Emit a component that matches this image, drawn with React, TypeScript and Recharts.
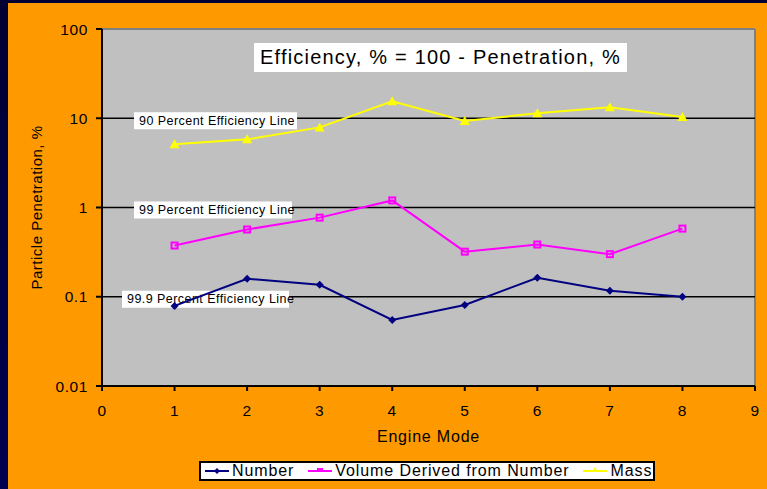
import React from "react"
import {
  CartesianGrid,
  Line,
  LineChart,
  ReferenceLine,
  XAxis,
  YAxis,
} from "recharts"

const modes = [1, 2, 3, 4, 5, 6, 7, 8]
const numberPen = [0.079, 0.159, 0.136, 0.055, 0.081, 0.163, 0.117, 0.1]
const volumePen = [0.375, 0.567, 0.77, 1.2, 0.32, 0.385, 0.3, 0.58]
const massPen = [5.1, 5.8, 7.9, 15.5, 9.3, 11.4, 13.3, 10.3]

const xTicks = [0, 1, 2, 3, 4, 5, 6, 7, 8, 9]
const yTicks = [0.01, 0.1, 1, 10, 100]

const efficiencyLines = [
  { y: 10, text: "90 Percent Efficiency Line", dx: 32, w: 163 },
  { y: 1, text: "99 Percent Efficiency Line", dx: 32, w: 158 },
  { y: 0.1, text: "99.9 Percent Efficiency Line", dx: 20, w: 167 },
]

const data = modes.map((m, i) => ({
  mode: m,
  number: numberPen[i],
  volume: volumePen[i],
  mass: massPen[i],
}))

const FONT = "'Liberation Sans', Arial, sans-serif"
const NAVY = "#000080"
const MAGENTA = "#ff00ff"
const YELLOW = "#ffff00"

function Diamond({ cx, cy, color }: any) {
  return <path d={`M${cx},${cy - 4}L${cx + 4},${cy}L${cx},${cy + 4}L${cx - 4},${cy}Z`} fill={color} />
}
function Square({ cx, cy, color }: any) {
  return <rect x={cx - 3} y={cy - 3} width={6} height={6} fill="none" stroke={color} strokeWidth={2} />
}
function Triangle({ cx, cy, color }: any) {
  return <path d={`M${cx},${cy - 5}L${cx + 5},${cy + 4}L${cx - 5},${cy + 4}Z`} fill={color} />
}

function RefLabel({ viewBox, text, dx, w }: any) {
  const x = viewBox.x + dx
  const y = viewBox.y
  return (
    <g>
      <rect x={x} y={y - 6} width={w} height={17} fill="#fff" />
      <text
        x={x + 5}
        y={y + 6.5}
        fontSize={12.5}
        fontFamily={FONT}
        fill="#000"
        style={{ letterSpacing: 0.45 }}
      >
        {text}
      </text>
    </g>
  )
}

const legendItems = [
  { name: "Number", color: NAVY, shape: "d" },
  { name: "Volume Derived from Number", color: MAGENTA, shape: "s" },
  { name: "Mass", color: YELLOW, shape: "t" },
]

function LegendBox() {
  return (
    <div
      style={{
        position: "absolute",
        left: 191,
        top: 458,
        background: "#fff",
        border: "2px solid #000",
        height: 20,
        display: "flex",
        alignItems: "center",
        fontFamily: FONT,
        fontSize: 16,
        letterSpacing: 0.9,
        color: "#000",
        paddingLeft: 4,
        boxSizing: "border-box",
        width: 456,
        whiteSpace: "nowrap",
      }}
    >
      {legendItems.map((it) => (
        <span key={it.name} style={{ display: "flex", alignItems: "center", marginRight: 14 }}>
          <svg width={24} height={10}>
            <line x1={0} y1={5} x2={24} y2={5} stroke={it.color} strokeWidth={2} />
            {it.shape === "d" && <path d="M12,2L15,5L12,8L9,5Z" fill={it.color} />}
            {it.shape === "s" && <rect x={9} y={2} width={6} height={4} fill={it.color} />}
            {it.shape === "t" && <path d="M12,1L15,6L9,6Z" fill={it.color} />}
          </svg>
          <span style={{ marginLeft: 3, lineHeight: "16px" }}>{it.name}</span>
        </span>
      ))}
    </div>
  )
}

const tickStyle = { fill: "#000", fontSize: 15.5, fontFamily: FONT, style: { letterSpacing: 0.6 } }

export default function App() {
  return (
    <div
      style={{
        position: "fixed",
        left: 0,
        top: 0,
        width: 767,
        height: 489,
        background: "linear-gradient(180deg,#000033 0%,#000050 100%)",
      }}
    >
      <div
        style={{
          position: "absolute",
          left: 8,
          top: 3,
          width: 759,
          height: 486,
          background: "#ff9900",
        }}
      >
        <LineChart
          width={759}
          height={486}
          data={data}
          margin={{ top: 26, right: 12, left: 0, bottom: 0 }}
        >
          <CartesianGrid fill="#c0c0c0" horizontal={false} vertical={false} />
          <XAxis
            dataKey="mode"
            type="number"
            domain={[0, 9]}
            ticks={xTicks}
            height={103}
            stroke="#000"
            strokeWidth={2}
            tickSize={5}
            tickMargin={14}
            tick={tickStyle}
            label={{
              value: "Engine Mode",
              position: "insideTop",
              offset: 45,
              fill: "#000",
              fontSize: 16,
              fontFamily: FONT,
              style: { letterSpacing: 0.8 },
            }}
          />
          <YAxis
            scale="log"
            domain={[0.01, 100]}
            ticks={yTicks}
            allowDataOverflow
            width={94}
            stroke="#000"
            strokeWidth={2}
            tickSize={6}
            tickMargin={8}
            tick={tickStyle}
            label={{
              value: "Particle Penetration, %",
              angle: -90,
              position: "insideLeft",
              offset: 29,
              fill: "#000",
              fontSize: 15,
              fontFamily: FONT,
              style: { textAnchor: "middle", letterSpacing: 0.5 },
            }}
          />
          <ReferenceLine y={100} stroke="#808080" strokeWidth={2} />
          <ReferenceLine x={9} stroke="#808080" strokeWidth={2} />
          {efficiencyLines.map((l) => (
            <ReferenceLine
              key={l.y}
              y={l.y}
              stroke="#000"
              strokeWidth={1.5}
              label={<RefLabel text={l.text} dx={l.dx} w={l.w} />}
            />
          ))}
          <Line
            dataKey="number"
            name="Number"
            stroke={NAVY}
            strokeWidth={2}
            isAnimationActive={false}
            dot={(p: any) => <Diamond key={p.index} cx={p.cx} cy={p.cy} color={NAVY} />}
          />
          <Line
            dataKey="volume"
            name="Volume Derived from Number"
            stroke={MAGENTA}
            strokeWidth={2}
            isAnimationActive={false}
            dot={(p: any) => <Square key={p.index} cx={p.cx} cy={p.cy} color={MAGENTA} />}
          />
          <Line
            dataKey="mass"
            name="Mass"
            stroke={YELLOW}
            strokeWidth={2}
            isAnimationActive={false}
            dot={(p: any) => <Triangle key={p.index} cx={p.cx} cy={p.cy} color={YELLOW} />}
          />
        </LineChart>
        <LegendBox />
        <div
          style={{
            position: "absolute",
            left: 246,
            top: 40,
            width: 373,
            height: 29,
            background: "#fff",
            fontFamily: FONT,
            fontSize: 20,
            letterSpacing: 1.2,
            color: "#000",
            display: "flex",
            alignItems: "center",
            justifyContent: "center",
            whiteSpace: "nowrap",
          }}
        >
          Efficiency, % = 100 - Penetration, %
        </div>
      </div>
    </div>
  )
}
